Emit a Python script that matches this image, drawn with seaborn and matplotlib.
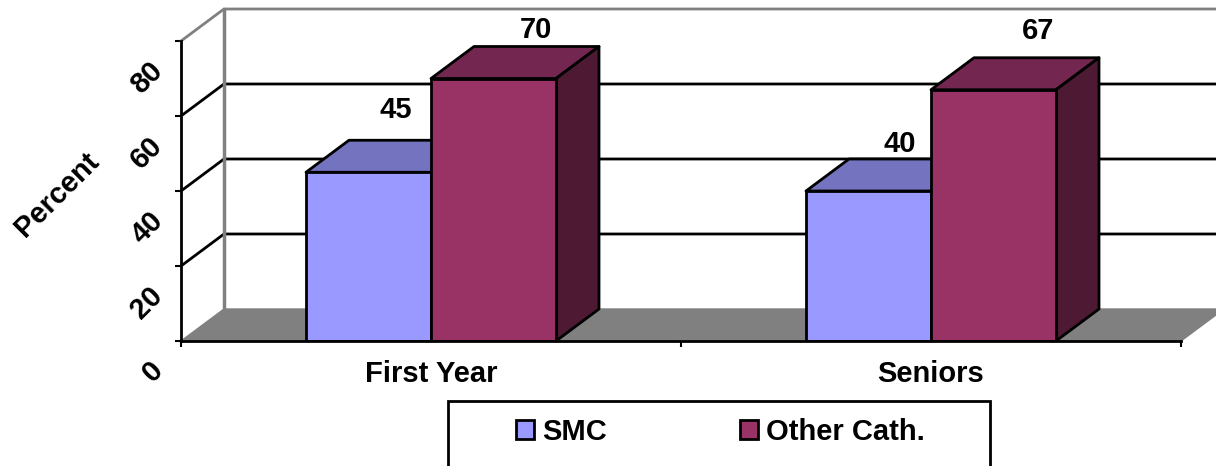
import pandas as pd
import matplotlib.pyplot as plt
import seaborn as sns
from matplotlib.patches import Polygon, Rectangle
from matplotlib.transforms import ScaledTranslation

groups = ['First Year', 'Seniors']
smc = [45, 40]
other = [70, 67]
series_names = ['SMC', 'Other Cath.']
y_ticks = [0, 20, 40, 60, 80]

W, H = 1216, 466
DX = 43 / 500    # depth of the fake 3D box, in x units
DY = 32 * 20 / 75  # and in percent
FONT = 21

df = pd.DataFrame({
    'group': groups * 2,
    'percent': smc + other,
    'series': [series_names[0]] * 2 + [series_names[1]] * 2,
})

sns.set_style('white')
plt.rcParams['font.family'] = ['Liberation Sans', 'DejaVu Sans']
plt.rcParams['font.weight'] = 'bold'
plt.rcParams['text.color'] = 'black'
plt.rcParams['xtick.color'] = 'black'
plt.rcParams['ytick.color'] = 'black'

fig = plt.figure(figsize=(W / 100, H / 100), dpi=100)
ax = fig.add_axes([181 / W, 1 - 341 / H, 1000 / W, 300 / H])
ax.patch.set_alpha(0)

sns.barplot(data=df, x='group', y='percent', hue='series', palette=['#9999FF', '#993366'],
            width=0.5, gap=0, edgecolor='black', linewidth=2, saturation=1, ax=ax)
handles, names = ax.get_legend_handles_labels()
ax.get_legend().remove()
ax.set_xlim(-0.5, 1.5)
ax.set_ylim(0, 80)
ax.set_xlabel('')
ax.set_ylabel('')

# floor and back wall
x0, x1 = ax.get_xlim()
ax.add_patch(Polygon([(x0, 0), (x0 + DX, DY), (x1 + DX, DY), (x1, 0)], closed=True, facecolor='#808080',
                     edgecolor='#808080', linewidth=1, clip_on=False, zorder=0.5))
for v in y_ticks[1:]:
    c = '#808080' if v == y_ticks[-1] else 'black'
    ax.plot([x0, x0 + DX, x1 + DX], [v, v + DY, v + DY], color=c, lw=2, clip_on=False, zorder=1,
            solid_joinstyle='miter')
ax.plot([x0 + DX, x0 + DX], [DY, 80 + DY], color='#808080', lw=2.5, clip_on=False, zorder=1.1)

# depth faces of the bars
shades = [('#7373BF', '#4D4D80'), ('#732650', '#4D1933')]
for i, cont in enumerate(ax.containers):
    top_c, side_c = shades[i]
    for bar in cont:
        l, r, h = bar.get_x(), bar.get_x() + bar.get_width(), bar.get_height()
        z = 3 + i
        ax.add_patch(Polygon([(l, h), (l + DX, h + DY), (r + DX, h + DY), (r, h)], closed=True, facecolor=top_c,
                             edgecolor='black', linewidth=2, clip_on=False, zorder=z, joinstyle='round'))
        ax.add_patch(Polygon([(r, 0), (r + DX, DY), (r + DX, h + DY), (r, h)], closed=True, facecolor=side_c,
                             edgecolor='black', linewidth=2, clip_on=False, zorder=z, joinstyle='round'))
        bar.set_zorder(z + 0.5)

# value labels sit a bit irregularly in the original, shifts in px
label_shift = [[(6, 30), (21, 16)], [(10, 15), (23, 27)]]
px = 1 / 500
py = 20 / 75
for i, cont in enumerate(ax.containers):
    vals = [smc, other][i]
    for j, bar in enumerate(cont):
        sx, sy = label_shift[j][i]
        ax.text(bar.get_x() + bar.get_width() / 2 + DX / 2 + sx * px, bar.get_height() + DY + sy * py,
                str(vals[j]), ha='center', va='center', fontsize=FONT, fontweight='bold', clip_on=False, zorder=8)

sns.despine(ax=ax, top=True, right=True)
for s in ['left', 'bottom']:
    ax.spines[s].set_color('black')
    ax.spines[s].set_linewidth(2)
    ax.spines[s].set_zorder(7)

# y labels are rotated and pushed down below their ticks
ax.set_yticks(y_ticks)
ax.set_yticklabels([str(v) for v in y_ticks], rotation=45, ha='center', va='center', fontsize=FONT, fontweight='bold',
                   rotation_mode='anchor')
ax.tick_params(axis='y', left=True, length=4.5, width=1.5, color='black', pad=20, zorder=7)
for v, lab in zip(y_ticks, ax.get_yticklabels()):
    # the single digit 0 hugs the axis a little more
    sx, sy = (6, -31) if v == 0 else (0, -37)
    lab.set_transform(lab.get_transform() + ScaledTranslation(sx / 100, sy / 100, fig.dpi_scale_trans))

ax.set_xticks([0, 1])
ax.set_xticklabels(groups, fontsize=FONT, fontweight='bold', color='black')
ax.tick_params(axis='x', bottom=False, length=0, pad=14)
ax.set_xticks([-0.5, 0.5, 1.5], minor=True)
ax.tick_params(axis='x', which='minor', bottom=True, length=4.5, width=1.5, color='black')

fig.text(57 / W, 1 - 195 / H, 'Percent', rotation=45, ha='center', va='center', fontsize=FONT, fontweight='bold')

# legend box runs off the bottom of the picture
fig.add_artist(Rectangle((448 / W, -0.05), 542 / W, 1 - 401 / H + 0.05, transform=fig.transFigure, facecolor='white',
                         edgecolor='black', linewidth=2))
leg = fig.legend(handles, names, ncol=2, frameon=False, loc='center left', bbox_to_anchor=(516 / W, 1 - 432 / H),
                 prop={'size': FONT, 'weight': 'bold'}, handlelength=0.62, handleheight=0.62, handletextpad=0.27,
                 columnspacing=4.57, borderpad=0, borderaxespad=0)
leg.set_zorder(10)

fig.savefig('out.png', dpi=100)
